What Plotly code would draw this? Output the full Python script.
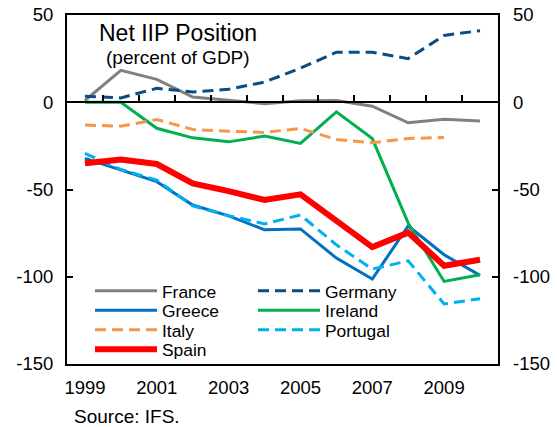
import plotly.graph_objects as go

# ---------------- data ----------------
years = ["1999", "2000", "2001", "2002", "2003", "2004",
         "2005", "2006", "2007", "2008", "2009", "2010"]
tick_years = ["1999", "2001", "2003", "2005", "2007", "2009"]
y_ticks = [50, 0, -50, -100, -150]
y_tick_text = ["50", "0", "-50", "-100", "-150"]

france = [1.0, 18.3, 13.1, 3.0, 1.1, -0.8, 0.8, 1.0, -2.3, -11.8, -9.7, -10.7]
germany = [3.4, 2.5, 8.0, 5.9, 7.4, 11.6, 19.5, 28.7, 28.7, 25.0, 38.3, 41.0]
greece = [-32.2, -38.9, -45.5, -58.9, -65.1, -73.1, -72.6, -89.3, -101.3, -70.9, -87.4, -99.2]
ireland = [0.0, 0.0, -14.9, -20.4, -22.7, -19.4, -23.6, -5.5, -20.8, -69.3, -102.7, -98.9]
italy = [-13.1, -13.7, -9.9, -15.6, -16.6, -17.3, -15.0, -21.3, -23.2, -20.8, -20.2, None]
portugal = [-29.3, -38.5, -44.6, -59.4, -65.0, -69.7, -64.6, -81.7, -95.6, -90.9, -115.6, -112.6]
spain = [-35.0, -32.8, -35.4, -46.5, -50.9, -56.0, -52.8, -68.4, -83.0, -74.7, -93.7, -90.3]

# ---------------- geometry helpers ----------------
W, H = 557, 427
ML, MR, MT, MB = 67, 59, 15, 63
PW = W - ML - MR
PH = H - MT - MB
Y_MIN, Y_MAX = -150, 50
FONT = "Liberation Sans, Arial, sans-serif"
X_LO = int(years[0]) - 0.5
X_HI = int(years[-1]) + 0.5


def px_x(x):
    return (x - ML) / PW


def px_y(y):
    return (H - MB - y) / PH


# name, values, colour, dash, width, legend id, x axis, y axis
series = [
    ("France", france, "#808080", "solid", 3, "legend", "x", "y"),
    ("Germany", germany, "#0B4C85", "11px,6px", 3, "legend2", "x", "y"),
    ("Greece", greece, "#0070C0", "solid", 3, "legend3", "x", "y"),
    ("Ireland", ireland, "#00B050", "solid", 3, "legend4", "x", "y"),
    ("Italy", italy, "#F79646", "11px,6px", 3, "legend5", "x", "y"),
    ("Portugal", portugal, "#00B0F0", "11px,6px", 3, "legend6", "x", "y"),
    ("Spain", spain, "#FF0000", "solid", 6, "legend7", "x2", "y2"),
]

fig = go.Figure()
for name, vals, color, dash, width, lg, xa, ya in series:
    fig.add_trace(go.Scatter(
        x=years, y=vals, name=name, mode="lines",
        line=dict(color=color, dash=dash, width=width),
        legend=lg, connectgaps=False, xaxis=xa, yaxis=ya,
    ))

# legend positions (pixel left edge / vertical centre of each entry)
col1_x, col2_x = 90, 253
legend_pos = {
    "legend": (col1_x, 291),
    "legend3": (col1_x, 310.5),
    "legend5": (col1_x, 330),
    "legend7": (col1_x, 349.5),
    "legend2": (col2_x, 291),
    "legend4": (col2_x, 310.5),
    "legend6": (col2_x, 330),
}
legend_layout = {}
for key, (lx, ly) in legend_pos.items():
    legend_layout[key] = dict(
        x=px_x(lx), y=px_y(ly), xanchor="left", yanchor="middle",
        bgcolor="rgba(0,0,0,0)", borderwidth=0,
        font=dict(family=FONT, size=17.4, color="black"),
        itemwidth=62,
    )

fig.update_layout(
    template="none",
    width=W, height=H,
    margin=dict(l=ML, r=MR, t=MT, b=MB, pad=0, autoexpand=False),
    paper_bgcolor="white", plot_bgcolor="white",
    font=dict(family=FONT, size=18, color="black"),
    showlegend=True,
    **legend_layout,
    xaxis=dict(
        type="category", range=[-0.5, len(years) - 0.5],
        tickmode="array", tickvals=tick_years, ticktext=tick_years,
        ticks="", showline=True, mirror=True, linecolor="black", linewidth=2,
        showgrid=False, zeroline=False, tickfont=dict(size=18.5),
        automargin=False, ticklabelstandoff=6,
    ),
    # axis drawn along the zero line, with tick marks between the years
    xaxis2=dict(
        overlaying="x", anchor="free",
        position=(0 - Y_MIN) / (Y_MAX - Y_MIN),
        type="linear", range=[X_LO, X_HI],
        tickmode="linear", tick0=X_LO, dtick=1,
        ticks="inside", ticklen=6, tickwidth=2,
        tickcolor="black", showticklabels=False,
        showline=True, linecolor="black", linewidth=2,
        showgrid=False, zeroline=False, automargin=False,
    ),
    yaxis=dict(
        range=[Y_MIN, Y_MAX], tickmode="array", tickvals=y_ticks,
        ticktext=y_tick_text,
        ticks="inside", ticklen=6, tickwidth=2, tickcolor="black",
        showline=True, mirror="allticks", linecolor="black", linewidth=2,
        showgrid=False, zeroline=False,
        tickfont=dict(size=18.5), automargin=False, ticklabelstandoff=8,
    ),
    yaxis2=dict(
        overlaying="y", side="right", anchor="x",
        range=[Y_MIN, Y_MAX], tickmode="array", tickvals=y_ticks,
        ticktext=y_tick_text,
        ticks="", showline=False, showgrid=False, zeroline=False,
        tickfont=dict(size=18.5), automargin=False, ticklabelstandoff=14,
    ),
    annotations=[
        dict(text="Net IIP Position", x=px_x(177.5), y=px_y(33),
             xref="paper", yref="paper", showarrow=False,
             xanchor="center", yanchor="middle", font=dict(size=23)),
        dict(text="(percent of GDP)", x=px_x(178), y=px_y(58),
             xref="paper", yref="paper", showarrow=False,
             xanchor="center", yanchor="middle", font=dict(size=19)),
        dict(text="Source: IFS.", x=px_x(72), y=px_y(416),
             xref="paper", yref="paper", showarrow=False,
             xanchor="left", yanchor="middle", font=dict(size=19)),
    ],
)

fig.write_html("out.html",
               config={"displayModeBar": False},
               post_script="document.body.style.margin='0';"
                           "document.body.style.padding='0';")
